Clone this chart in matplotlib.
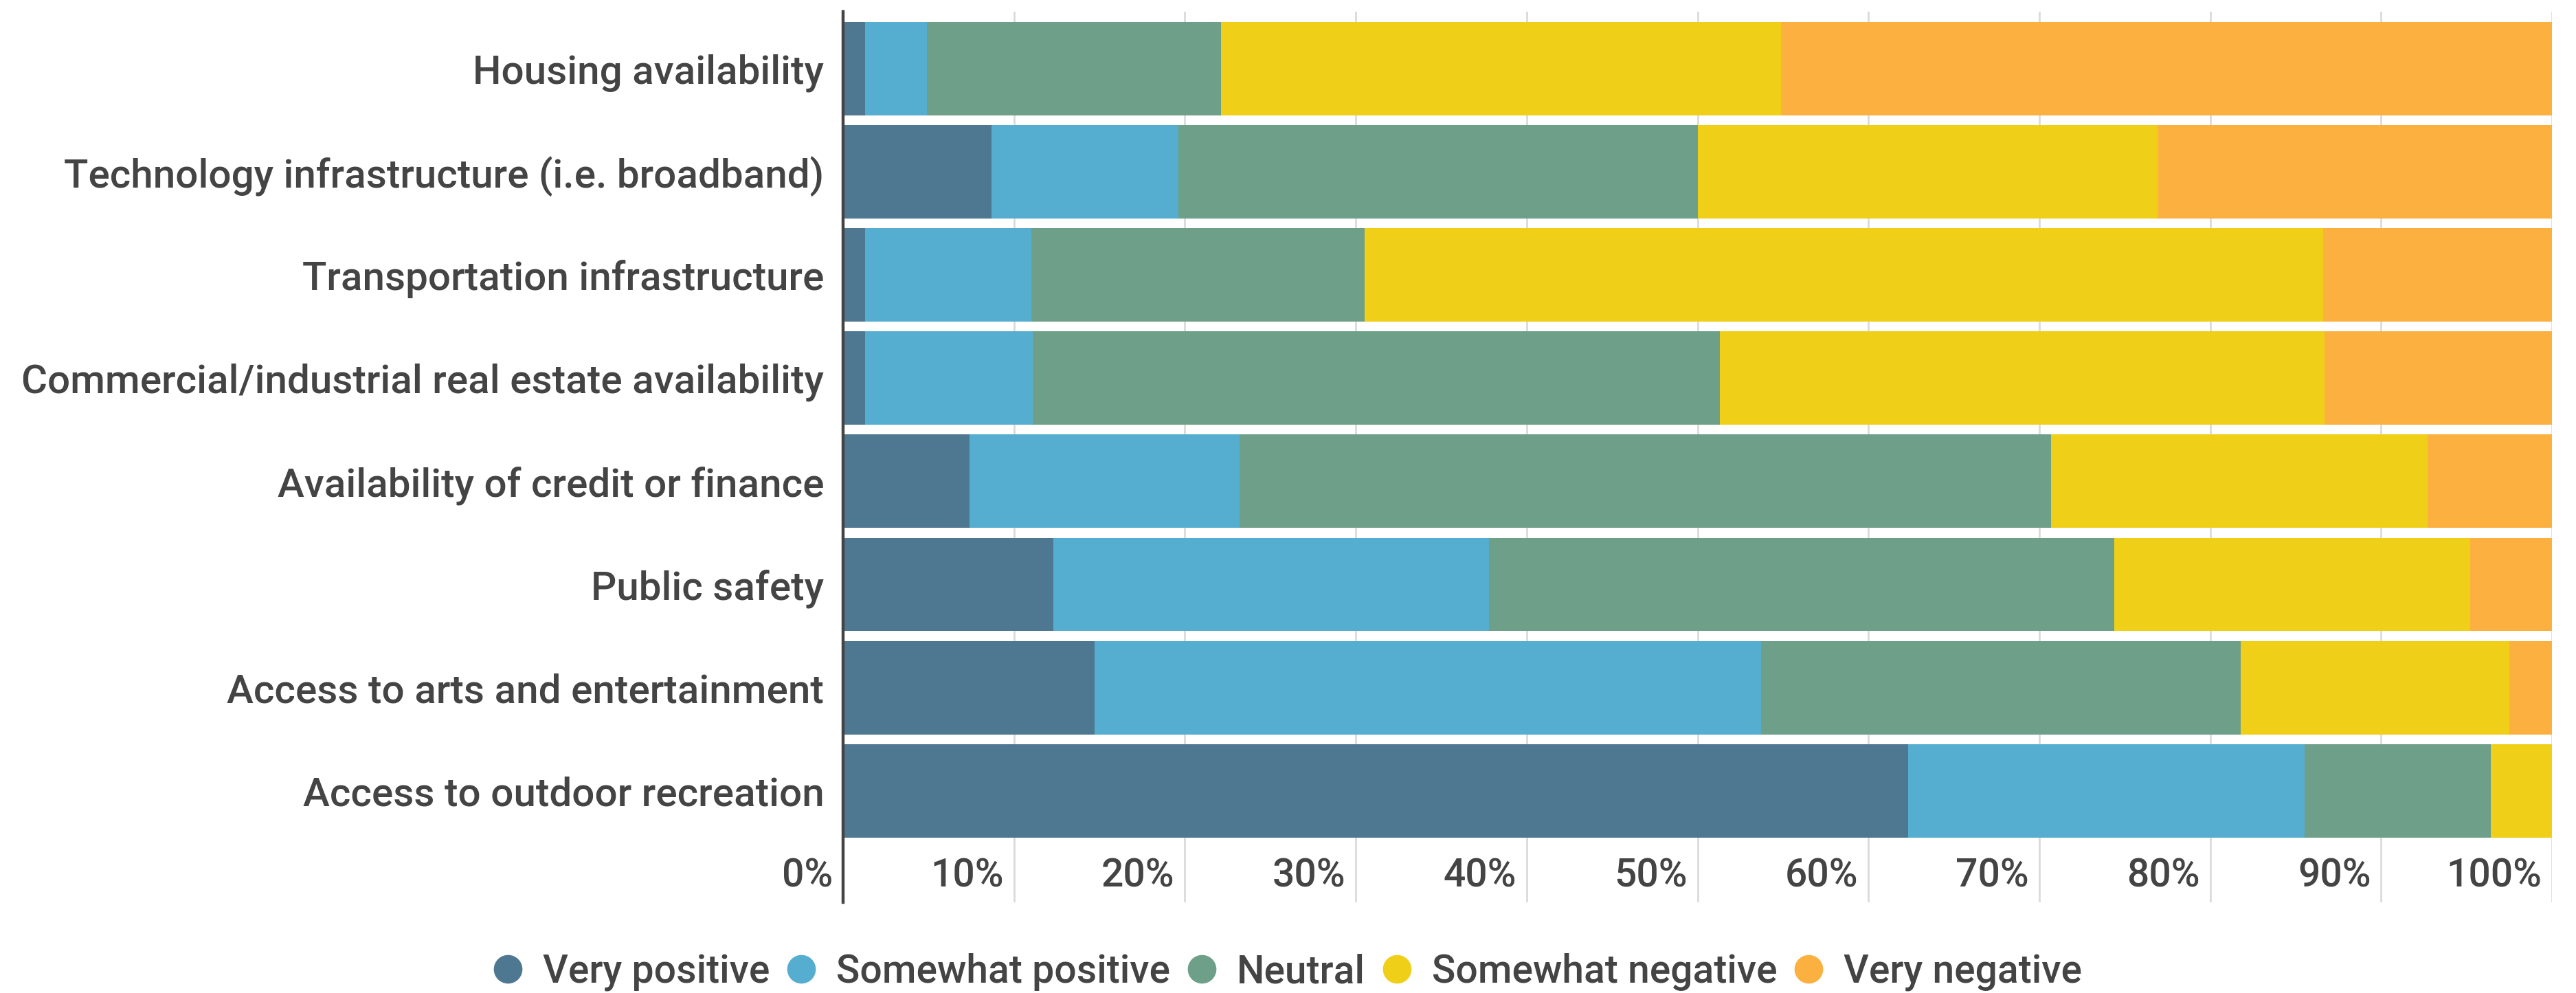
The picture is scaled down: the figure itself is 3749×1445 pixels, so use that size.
import matplotlib
matplotlib.use("Agg")
import matplotlib.pyplot as plt
import matplotlib.transforms as mtransforms
from matplotlib.lines import Line2D

plt.rcParams['font.family'] = ['Roboto', 'DejaVu Sans']
plt.rcParams['font.weight'] = 'medium'

categories = ['Housing availability',
              'Technology infrastructure (i.e. broadband)',
              'Transportation infrastructure',
              'Commercial/industrial real estate availability',
              'Availability of credit or finance',
              'Public safety',
              'Access to arts and entertainment',
              'Access to outdoor recreation']

very_positive = [1.3, 8.7, 1.3, 1.3, 7.4, 12.3, 14.7, 62.3]
somewhat_positive = [3.6, 10.9, 9.7, 9.8, 15.8, 25.5, 39.0, 23.2]
neutral = [17.2, 30.4, 19.5, 40.2, 47.5, 36.6, 28.1, 10.9]
somewhat_negative = [32.8, 26.9, 56.1, 35.4, 22.0, 20.8, 15.7, 3.6]
very_negative = [45.1, 23.1, 13.4, 13.4, 7.3, 4.8, 2.5, 0.0]

series_names = ['Very positive', 'Somewhat positive', 'Neutral',
                'Somewhat negative', 'Very negative']
colors = ['#4E7791', '#55AED0', '#6E9F88', '#F0CF18', '#FBB040']
ticks = [0, 10, 20, 30, 40, 50, 60, 70, 80, 90, 100]

text_color = '#444444'

fig = plt.figure(figsize=(37.49, 14.45), dpi=100)
ax = fig.add_axes([0.3273, 0.0913, 0.9907 - 0.3273, 0.9882 - 0.0913])

ypos = list(range(len(categories)))
left = [0.0] * len(categories)
for name, vals, c in zip(series_names,
                         [very_positive, somewhat_positive, neutral,
                          somewhat_negative, very_negative], colors):
    ax.barh(ypos, vals, left=left, height=0.905, color=c, label=name,
            zorder=2, linewidth=0)
    left = [l + v for l, v in zip(left, vals)]

ax.set_xlim(0, 100)
ax.set_ylim(8.08, -0.55)

ax.set_yticks(ypos)
ax.set_yticklabels(categories, fontsize=42, color=text_color)
ax.tick_params(axis='y', length=0, pad=20)
ax.set_xticks([])

# vertical gridlines run the full height, down into the tick label row
for t in ticks[1:]:
    ax.axvline(t, color='#D9D9D9', linewidth=1.9, zorder=1)

for s in ['top', 'right', 'bottom']:
    ax.spines[s].set_visible(False)
ax.spines['left'].set_color(text_color)
ax.spines['left'].set_linewidth(3.2)
ax.spines['left'].set_zorder(3)

# percent labels sit just left of each gridline, inside the axes
shift = mtransforms.offset_copy(ax.transData, fig=fig, x=-15, y=0, units='dots')
for t in ticks:
    ax.text(t, 7.824, f'{t}%', transform=shift, ha='right', va='center',
            fontsize=41, color=text_color)

handles = [Line2D([0], [0], marker='o', linestyle='none', markersize=30,
                  markerfacecolor=c, markeredgewidth=0) for c in colors]
leg = fig.legend(handles, series_names, loc='center',
                 bbox_to_anchor=(0.5, 1 - 1415 / 1445), ncol=5, frameon=False,
                 fontsize=41, handlelength=0.7, handletextpad=0.55,
                 columnspacing=0.45, borderpad=0, borderaxespad=0)
for txt in leg.get_texts():
    txt.set_color(text_color)

fig.savefig('out.png', dpi=100, facecolor='white')
